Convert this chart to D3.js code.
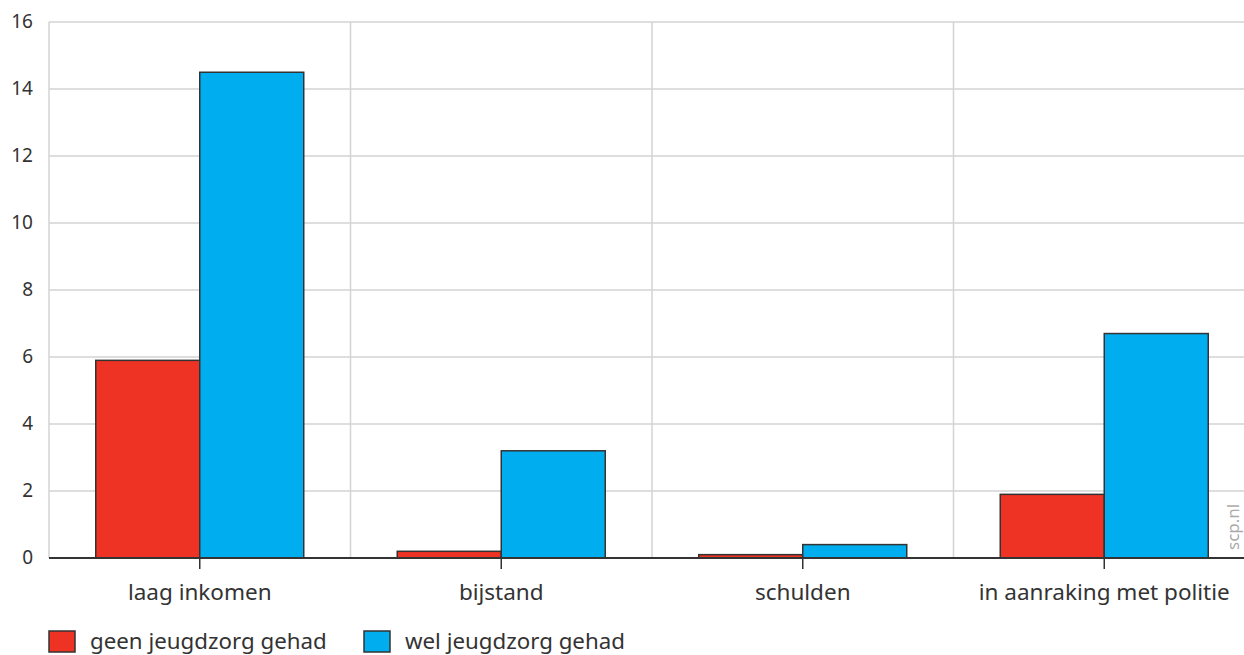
<!DOCTYPE html>
<html><head><meta charset="utf-8">
<script src="https://cdn.jsdelivr.net/npm/d3@7/dist/d3.min.js"></script>
<style>body{margin:0;background:#fff;overflow:hidden}svg{display:block}text{font-family:"Noto Sans",sans-serif;fill:#333}</style>
</head><body><svg id="c" width="1244" height="655"></svg>
<script>
const categories = ["laag inkomen","bijstand","schulden","in aanraking met politie"];
const seriesNames = ["geen jeugdzorg gehad","wel jeugdzorg gehad"];
const geenValues = [5.9,0.2,0.1,1.9];
const welValues = [14.5,3.2,0.4,6.7];
const yTicks = [0,2,4,6,8,10,12,14,16];
const colors = ["#ee3224","#00aeef"];

(function(){
const svg = d3.select("#c");
const pLeft = 49, pRight = 1255, pTop = 22, pBottom = 558;
const x = d3.scaleBand().domain(categories).range([pLeft,pRight]);
const y = d3.scaleLinear().domain([0,16]).range([pBottom,pTop]);
const bw = 104;

svg.append("g").selectAll("line").data(yTicks.filter(d=>d>0)).join("line")
  .attr("x1",pLeft).attr("x2",pRight).attr("y1",d=>y(d)).attr("y2",d=>y(d))
  .attr("stroke","#d3d3d3").attr("stroke-width",1.5);
svg.append("g").selectAll("line").data(categories).join("line")
  .attr("x1",d=>x(d)).attr("x2",d=>x(d)).attr("y1",pTop).attr("y2",pBottom)
  .attr("stroke","#d3d3d3").attr("stroke-width",1.5);

svg.append("g").selectAll("text").data(yTicks).join("text")
  .attr("x",33).attr("y",d=>y(d)+6).attr("text-anchor","end")
  .attr("font-size",19).text(d=>d);

const data = categories.map((c,i)=>({c, vals:[geenValues[i],welValues[i]]}));
const g = svg.append("g");
data.forEach(d=>{
  const cx = x(d.c)+x.bandwidth()/2;
  d.vals.forEach((v,j)=>{
    g.append("rect").attr("x",cx+(j-1)*bw).attr("width",bw)
      .attr("y",y(v)).attr("height",y(0)-y(v))
      .attr("fill",colors[j]).attr("stroke","#333").attr("stroke-width",1.5);
  });
});

svg.append("line").attr("x1",pLeft).attr("x2",pRight).attr("y1",pBottom).attr("y2",pBottom)
  .attr("stroke","#333").attr("stroke-width",2);
svg.append("g").selectAll("line").data(categories).join("line")
  .attr("x1",d=>x(d)+x.bandwidth()/2).attr("x2",d=>x(d)+x.bandwidth()/2)
  .attr("y1",pBottom).attr("y2",pBottom+11).attr("stroke","#333").attr("stroke-width",1.5);
svg.append("g").selectAll("text").data(categories).join("text")
  .attr("x",d=>x(d)+x.bandwidth()/2).attr("y",600).attr("text-anchor","middle")
  .attr("font-size",22.5).text(d=>d);

const legX = [49,364];
seriesNames.forEach((n,i)=>{
  svg.append("rect").attr("x",legX[i]).attr("y",631).attr("width",26).attr("height",21)
    .attr("fill",colors[i]).attr("stroke","#333").attr("stroke-width",1.5);
  svg.append("text").attr("x",legX[i]+41).attr("y",649).attr("font-size",22.3).text(n);
});

svg.append("text").attr("transform","translate(1239,550) rotate(-90)")
  .attr("font-size",17).style("fill","#aaa").text("scp.nl");
})();
</script></body></html>
